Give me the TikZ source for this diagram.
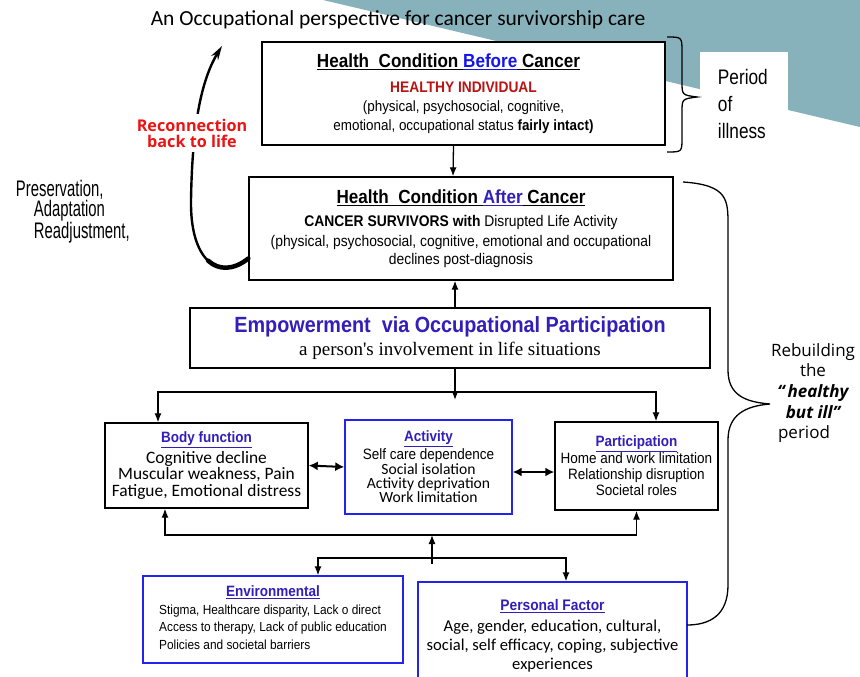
\documentclass[tikz,border=0pt]{standalone}
\usepackage{fontspec}
\setmainfont{Carlito}
\newfontfamily\narrow[FakeStretch=0.82]{Liberation Sans}
\newfontfamily\arialn[FakeStretch=0.9]{Liberation Sans}
\newfontfamily\slim[FakeStretch=0.66]{Liberation Sans}
\newfontfamily\opensans{Open Sans}
\newfontfamily\serifface{Liberation Serif}
\usetikzlibrary{arrows.meta,positioning}
\definecolor{tealbg}{RGB}{136,178,187}
\definecolor{linkblue}{RGB}{20,20,235}
\definecolor{headblue}{RGB}{50,30,185}
\definecolor{boxblue}{RGB}{35,35,240}
\definecolor{darkred}{RGB}{185,20,20}
\definecolor{brightred}{RGB}{235,20,20}
\newcommand{\fsz}[2]{\fontsize{#1}{#2}\selectfont}

\begin{document}
\begin{tikzpicture}[x=1pt,y=-1pt,line width=1.3pt,
box/.style={draw,rectangle,fill=white,align=center,inner sep=0pt,line width=1.4pt},
bluebox/.style={box,draw=boxblue},
arr/.style={-{Latex[length=9pt,width=7pt]}},
dbl/.style={{Latex[length=9pt,width=9pt]}-{Latex[length=9pt,width=9pt]},line width=2pt}]

\useasboundingbox (0,0) rectangle (860,677);
\fill[tealbg] (323,0) -- (860,0) -- (860,127) -- cycle;
\fill[white] (700,52) rectangle (788,110);

\node (title) at (398,20) {\fsz{21.5}{24}An Occupational perspective for cancer survivorship care};

\node[box,minimum width=403pt,minimum height=103pt,font=\arialn\fsz{14.9}{19}] (before) at (463.5,93.5)
  {{\bfseries\fsz{19}{19}\underline{Health~~Condition~}\textcolor{linkblue}{\underline{Before}}\underline{~Cancer}}\hspace*{30pt}\\[6pt]
   {\bfseries\fsz{15.3}{19}\color{darkred}HEALTHY INDIVIDUAL}\hspace*{30pt}\\
   (physical, psychosocial, cognitive,\\
   emotional, occupational status \textbf{fairly intact)}};

\node[box,minimum width=424pt,minimum height=103pt,font=\arialn\fsz{15.4}{18}] (after) at (461,228.5)
  {{\bfseries\fsz{19}{18}\underline{Health~~Condition~}\textcolor{headblue}{\underline{After}}\underline{~Cancer}}\\[5pt]
   \textbf{CANCER SURVIVORS with} Disrupted Life Activity\\[2pt]
   (physical, psychosocial, cognitive, emotional and occupational\\
   declines post-diagnosis};

\node[box,minimum width=520pt,minimum height=60pt,font=\serifface\fsz{19}{23}] (empower) at (450,338)
  {{\arialn\bfseries\fsz{22}{23}\color{headblue}Empowerment~~via Occupational Participation}\\
   a person's involvement in life situations};

\node[box,minimum width=203pt,minimum height=85pt,font=\fsz{17.4}{16.5}] (body) at (206.5,465.5)
  {{\arialn\bfseries\fsz{15}{16.5}\color{headblue}\underline{Body function}}\\[2pt]
   Cognitive decline\\
   Muscular weakness, Pain\\
   Fatigue, Emotional distress};

\node[bluebox,minimum width=167pt,minimum height=94pt,font=\fsz{15.6}{14.3}] (act) at (428.5,467)
  {{\arialn\bfseries\fsz{15}{14.3}\color{headblue}\underline{Activity}}\\[1pt]
   {\arialn\fsz{15}{14.3}Self care dependence}\\
   Social isolation\\
   Activity deprivation\\
   Work limitation};

\node[box,minimum width=163pt,minimum height=88pt,font=\arialn\fsz{15}{16}] (part) at (636.5,466)
  {{\bfseries\color{headblue}\underline{Participation}}\\[1pt]
   Home and work limitation\\
   Relationship disruption\\
   Societal roles};

\node[bluebox,minimum width=260pt,minimum height=87pt,font=\arialn\fsz{13.2}{17.5}] (env) at (273,619.5)
  {\begin{tabular}{@{}l@{}}
   \multicolumn{1}{c}{\bfseries\fsz{15}{17.5}\color{headblue}\underline{Environmental}}\\
   Stigma, Healthcare disparity, Lack o direct\\
   Access to therapy, Lack of public education\\
   Policies and societal barriers
   \end{tabular}};

\node[bluebox,minimum width=269pt,minimum height=108pt,font=\fsz{16.6}{19}] (pers) at (552.5,636)
  {{\arialn\bfseries\fsz{15.3}{19}\color{headblue}\underline{Personal Factor}}\\[2pt]
   Age, gender, education, cultural,\\
   social, self efficacy, coping, subjective\\
   experiences};

\draw[arr] ([xshift=-10pt]before.south) -- ([xshift=-8pt]after.north);
\draw[arr] ([xshift=5pt]empower.north) -- ([xshift=-6pt]after.south);

\coordinate (split) at (455,392);
\draw[arr] ([xshift=5pt]empower.south) -- ([yshift=-8pt]split);
\draw[arr] (split) -| ([xshift=-48.5pt]body.north);
\draw[arr] (split) -| ([xshift=19.5pt]part.north);

\draw[dbl] (body.east) -- (act.west);
\draw[dbl] ([yshift=-5pt]act.east) -- ([yshift=-6pt]part.west);

\coordinate (join) at (432,535);
\draw[arr] (join) -| ([xshift=-41.5pt]body.south);
\draw[arr] (join) -| (part.south);
\coordinate (fork) at (432,558);
\draw[arr] ([yshift=-6pt]fork) -- (join);
\draw[arr] (fork) -| ([xshift=45pt]env.north);
\draw[arr] (fork) -| ([xshift=13.5pt]pers.north);

\draw (667,37) .. controls (682,37) .. (682,52) -- (682,82) .. controls (682,95) .. (697,97)
  .. controls (682,99) .. (682,112) -- (682,138) .. controls (682,152) .. (667,152);
\draw (683,182) .. controls (728,185) and (728,200) .. (728,225) -- (728,370)
  .. controls (728,395) and (745,402) .. (770,404) .. controls (745,406) and (728,415) .. (728,440)
  -- (728,585) .. controls (728,615) and (710,625) .. (687,625);

\draw[line width=2.4pt,-{Stealth[length=14pt,width=8pt]}] ([yshift=-30pt]after.west)
  .. controls (218,282) and (190,260) .. (191,200) .. controls (192,140) and (198,85) .. (222,46);
\draw[line width=4.5pt,line cap=round] ([yshift=-30pt]after.west)
  .. controls (233.5,270.25) and (218.75,270.6) .. (208,260.6);

\node[font=\opensans\bfseries\fsz{16.2}{16},text=brightred,fill=white,align=center,inner xsep=2pt,inner ysep=5pt] (reconnect) at (192,133) {Reconnection\\back to life};
\node[font=\narrow\fsz{21}{27},align=left,anchor=west] (period) at (714,103.5) {Period\\of\\illness};
\node[font=\slim\fsz{22.5}{20},align=left,anchor=west] (adapt) at (12,212) {Preservation,\\\hspace*{18pt}Adaptation\\\hspace*{18pt}Readjustment,};
\node[font=\opensans\fsz{17}{20.7},align=center] (rebuild) at (813,393)
  {Rebuilding\\the\\{\bfseries\itshape “\,healthy}\\{\bfseries\itshape but ill”}\\period\hspace*{18pt}};

\end{tikzpicture}
\end{document}
